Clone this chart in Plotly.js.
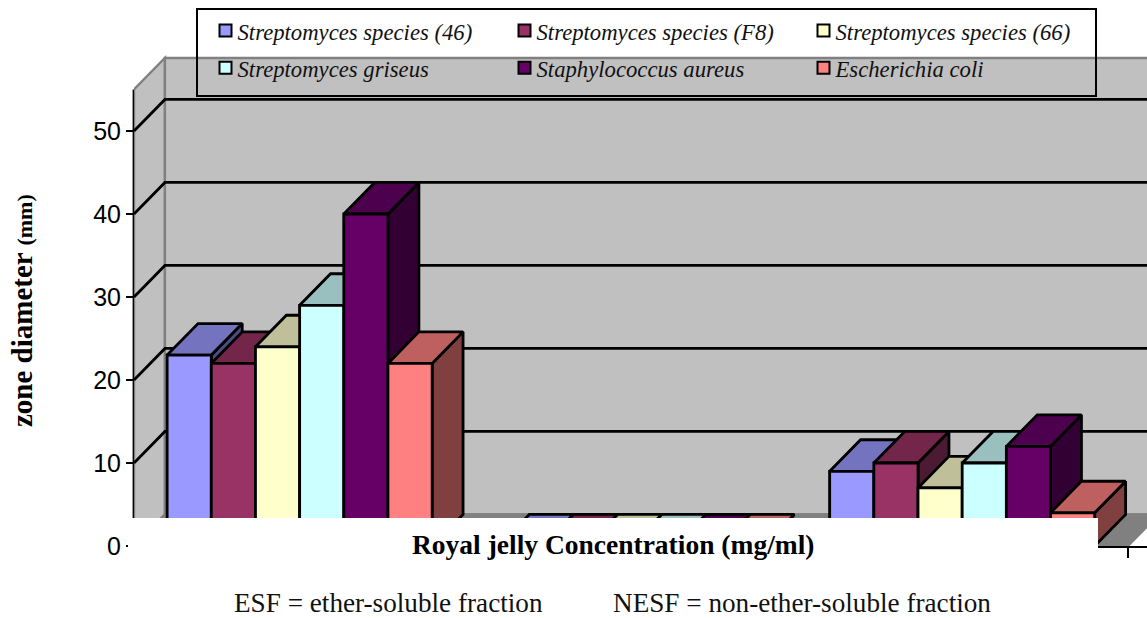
<!DOCTYPE html>
<html>
<head>
<meta charset="utf-8">
<script src="https://cdn.plot.ly/plotly-3.0.1.min.js"></script>
<style>html,body{margin:0;padding:0;background:#fff;overflow:hidden}</style>
</head>
<body>
<div id="chart" style="width:1147px;height:618px"></div>
<script>
const seriesNames = ['Streptomyces species (46)','Streptomyces species (F8)','Streptomyces species (66)','Streptomyces griseus','Staphylococcus aureus','Escherichia coli'];
const group1 = [23, 22, 24, 29, 40, 22];
const group2 = [0, 0, 0, 0, 0, 0];
const group3 = [9, 10, 7, 10, 12, 4];
const frontColors = ['#9999ff','#993366','#ffffcc','#ccffff','#660066','#ff8080'];
const topColors = ['#7373bf','#732649','#bfbf99','#99bfbf','#4d004d','#bf6060'];
const sideColors = ['#4d4d80','#4d1a33','#808066','#668080','#330033','#804040'];
const yTicks = [0,10,20,30,40,50];

const groups = [group1, group2, group3];
const PLOT_L = 134, PLOT_T = 55, PLOT_B = 546, W = 1147, H = 618;
const UNIT_PX = 44.17, VAL_PX = 8.3;
const catSpan = 7.5, DX = 0.7, DY = 3.8, YMAX = 55;
const xMax = (W - PLOT_L) / UNIT_PX, yMaxRange = (PLOT_B - PLOT_T) / VAL_PX;
const catEnd = catSpan * groups.length;
const centers = groups.map((_, i) => (i + 0.5) * catSpan);
const STROKE = 2.8;

const traces = [];
// native bars: scale + legend
seriesNames.forEach((n, s) => traces.push({
  type: 'bar', name: `<span style="font-size:22.7px">${n}</span>`, x: centers, y: groups.map(g => g[s]),
  marker: {color: frontColors[s], line: {color: '#000', width: 2}},
  hoverinfo: 'skip'
}));
// extruded faces painted back to front, left to right
function face(xs, ys, fill) {
  traces.push({type: 'scatter', mode: 'lines', x: xs.concat(xs[0]), y: ys.concat(ys[0]), fill: 'toself',
    fillcolor: fill, line: {color: '#000', width: STROKE}, showlegend: false, hoverinfo: 'skip'});
}
groups.forEach((g, i) => {
  const start = i * catSpan + 0.75;
  g.forEach((v, s) => {
    const a = start + s, b = a + 1;
    face([b, b + DX, b + DX, b], [0, DY, v + DY, v], sideColors[s]);
    face([a, b, b + DX, a + DX], [v, v, v + DY, v + DY], topColors[s]);
    face([a, b, b, a], [0, 0, v, v], frontColors[s]);
  });
});

const shapes = [];
function poly(xs, ys, fill, line) {
  const path = xs.map((x, k) => (k ? 'L' : 'M') + x + ',' + ys[k]).join(' ') + ' Z';
  shapes.push({type: 'path', path, xref: 'x', yref: 'y', fillcolor: fill, line, layer: 'below'});
}
const gray = {color: '#808080', width: 2.4};
poly([0, DX, DX, 0], [0, DY, YMAX + DY, YMAX], '#c0c0c0', gray);            // side wall
poly([DX, catEnd + DX, catEnd + DX, DX], [DY, DY, YMAX + DY, YMAX + DY], '#c0c0c0', gray); // back wall
poly([0, catEnd, catEnd + DX, DX], [0, 0, DY, DY], '#808080', gray);        // floor
yTicks.filter(v => v > 0).forEach(v => {
  shapes.push({type: 'path', xref: 'x', yref: 'y', layer: 'below', line: {color: '#000', width: STROKE},
    path: `M0,${v} L${DX},${v + DY} L${catEnd + DX},${v + DY}`});
});
// front edge of the side wall (the value axis line, only up to the top of the scale)
shapes.push({type: 'line', xref: 'paper', yref: 'y', x0: 0, x1: 0, y0: 0, y1: YMAX, line: {color: '#000', width: STROKE}, layer: 'below'});
// white panel that masks the lower part of the chart in the source image
const px = p => (p - PLOT_L) / (W - PLOT_L), py = p => (PLOT_B - p) / (PLOT_B - PLOT_T);
shapes.push({type: 'rect', xref: 'paper', yref: 'paper', x0: px(128), x1: px(1098), y0: py(518), y1: py(618),
  fillcolor: '#fff', line: {width: 0}, layer: 'above'});

const annotations = [
  {text: '<b>Royal jelly Concentration (mg/ml)</b>', x: px(613), y: py(544), font: {family: 'Liberation Serif', size: 27.5, color: '#000'}},
  {text: 'ESF = ether-soluble fraction', x: px(388.5), y: py(603), font: {family: 'Liberation Serif', size: 27.2, color: '#111'}},
  {text: 'NESF = non-ether-soluble fraction', x: px(802), y: py(603), font: {family: 'Liberation Serif', size: 27.2, color: '#111'}},
  {text: '<b>zone diameter <span style="font-size:22px">(mm)</span></b>', x: px(22), y: py(311), textangle: -90,
   font: {family: 'Liberation Serif', size: 29, color: '#000'}}
].map(a => Object.assign({xref: 'paper', yref: 'paper', showarrow: false, xanchor: 'center', yanchor: 'middle'}, a));

const layout = {
  width: W, height: H, paper_bgcolor: '#fff', plot_bgcolor: 'rgba(0,0,0,0)',
  margin: {l: PLOT_L, r: 0, t: PLOT_T, b: H - PLOT_B, pad: 0},
  barmode: 'group', bargap: 0.2, bargroupgap: 0,
  showlegend: true,
  legend: {orientation: 'h', x: px(195.5), xanchor: 'left', y: py(8), yanchor: 'top',
    bgcolor: 'rgba(0,0,0,0)', bordercolor: '#000', borderwidth: 2,
    entrywidth: 254, entrywidthmode: 'pixels', traceorder: 'normal',
    font: {family: 'Liberation Serif', size: 26.3, style: 'italic', color: '#111'}},
  xaxis: {range: [0, xMax], showgrid: false, zeroline: false, showline: true, linecolor: '#000', linewidth: 2,
    ticks: 'outside', ticklen: 10, tickwidth: 2, tickcolor: '#000', tickmode: 'array',
    tickvals: groups.map((_, i) => i * catSpan).concat(catEnd), showticklabels: false},
  yaxis: {range: [0, yMaxRange], showgrid: false, zeroline: false, showline: false,
    ticks: 'outside', ticklen: 7, tickwidth: 2, tickcolor: '#000', tickmode: 'array', tickvals: yTicks,
    tickfont: {family: 'Liberation Sans', size: 25, color: '#000'}},
  shapes, annotations
};
Plotly.newPlot('chart', traces, layout, {displayModeBar: false, staticPlot: true}).then(() => {
  // source key sits its swatches right beside the labels, high in each row
  document.querySelectorAll('#chart .legend .legendsymbols').forEach(g => g.setAttribute('transform', 'translate(8,-3)'));
  document.querySelectorAll('#chart .legend .legendtext').forEach(t => t.setAttribute('transform', 'translate(0,-4)'));
});
</script>
</body>
</html>
